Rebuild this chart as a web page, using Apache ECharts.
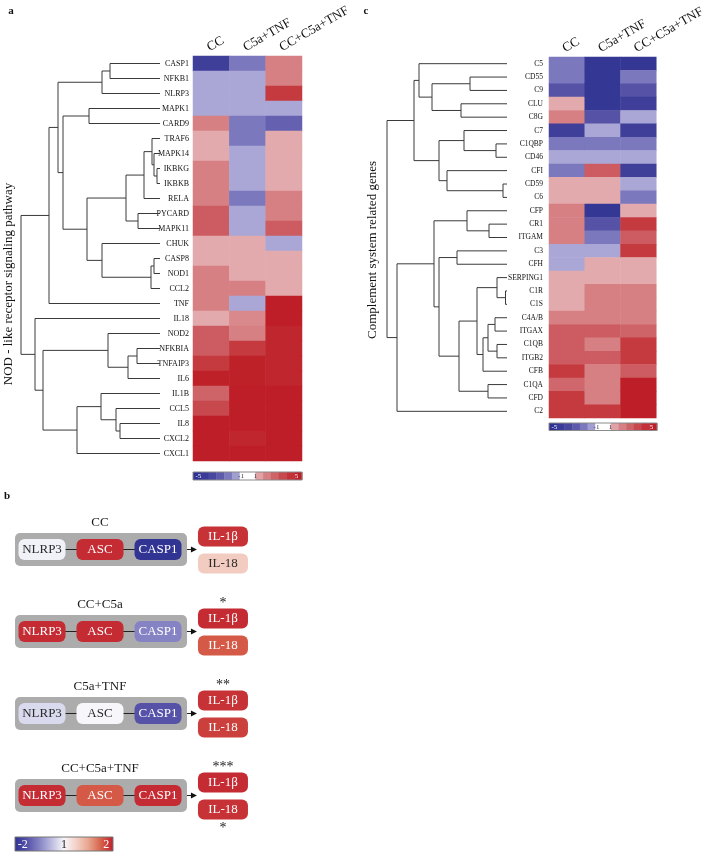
<!DOCTYPE html>
<html><head><meta charset="utf-8">
<script src="https://cdn.jsdelivr.net/npm/echarts@6/dist/echarts.min.js"></script>
<style>html,body{margin:0;padding:0;background:#fff}#chart{width:708px;height:854px}</style>
</head><body><div id="chart"></div>
<script>
// ---------------- DATA ----------------
const conditions = ['CC', 'C5a+TNF', 'CC+C5a+TNF'];

// Panel a: NOD-like receptor signaling pathway (log fold-change levels)
const genesA = ['CASP1','NFKB1','NLRP3','MAPK1','CARD9','TRAF6','MAPK14','IKBKG','IKBKB','RELA','PYCARD','MAPK11','CHUK','CASP8','NOD1','CCL2','TNF','IL18','NOD2','NFKBIA','TNFAIP3','IL6','IL1B','CCL5','IL8','CXCL2','CXCL1'];
const a_CC      = [-4,-1,-1,-1, 2, 1, 1, 2, 2, 2, 3, 3, 1, 1, 2, 2, 2, 1, 3, 3, 4, 4.9, 2.8, 3.6, 5, 5, 5];
const a_C5aTNF  = [-2,-1,-1,-1,-2,-2,-1,-1,-1,-2,-1,-1, 1, 1, 1, 2,-1, 1.8, 2, 4, 4.9, 4.9, 5, 5, 5, 4.7, 5];
const a_CCC5aTNF= [ 2, 2, 4,-1,-2.6, 1, 1, 1, 1, 2, 2, 3,-1, 1, 1, 1, 5, 5, 4.7, 4.7, 4.7, 4.7, 5, 5, 5, 5, 5];

// Panel c: complement system related genes
const genesC = ['C5','CD55','C9','CLU','C8G','C7','C1QBP','CD46','CFI','CD59','C6','CFP','CR1','ITGAM','C3','CFH','SERPING1','C1R','C1S','C4A/B','ITGAX','C1QB','ITGB2','CFB','C1QA','CFD','C2'];
const c_CC      = [-2,-2,-3, 1, 2,-4,-2,-1,-2, 1, 1, 2, 2, 2,-1,-1, 1, 1, 1, 2, 3, 3, 3, 4, 2.7, 4, 4];
const c_C5aTNF  = [-4.6,-4.6,-4.6,-4.6,-3,-1,-2,-1, 3, 1, 1,-4.6,-3,-2,-1, 1, 1, 2, 2, 2, 3, 2, 3, 2, 2, 2, 4];
const c_CCC5aTNF= [-4.6,-2,-3,-4,-1,-4,-2,-1,-4,-1,-2, 1, 4, 3, 4, 1, 1, 2, 2, 2, 2.8, 4, 4, 3, 5, 5, 5];

// Dendrograms: [child, child, merge height]; strings = genes, numbers = earlier merges
const treeA = [
  ['CASP1','NFKB1',0.50], [0,'NLRP3',0.58], ['MAPK1','CARD9',0.71],
  ['IKBKG','IKBKB',0.03], ['MAPK14',3,0.06], ['TRAF6',4,0.08], [5,'RELA',0.16],
  ['PYCARD','MAPK11',0.22], [6,7,0.34], ['CASP8','NOD1',0.06], [9,'CCL2',0.09],
  ['CHUK',10,0.58], [8,11,0.73], [2,12,0.97], [1,13,1.02], [14,'TNF',1.11],
  ['NFKBIA','TNFAIP3',0.23], [16,'IL6',0.32], ['NOD2',17,0.52],
  ['IL8','CXCL2',0.40], ['CCL5',19,0.44], ['IL1B',20,0.59], [21,'CXCL1',0.83],
  [18,22,1.17], ['IL18',23,1.25], [15,24,1.39]
];
const treeC = [
  ['CD55','C9',0.37], ['CLU','C8G',0.46], [0,1,0.75], ['C5',2,0.88],
  ['C1QBP','CD46',0.11], ['C7',4,0.43], ['CD59','C6',0.04], ['CFI',6,0.60],
  [5,7,0.68], [3,8,0.93], ['CR1','ITGAM',0.18], ['CFP',10,0.40], ['C3','CFH',0.50],
  ['C1R','C1S',0.015], ['SERPING1',13,0.10], ['C4A/B','ITGAX',0.12], ['C1QB','ITGB2',0.10],
  [15,16,0.19], [17,'CFB',0.24], [14,18,0.30], ['C1QA','CFD',0.19], [19,20,0.48],
  [12,21,0.68], [11,22,0.73], [23,'C2',1.10], [9,24,1.20]
];
const heatTicks = ['-5','-1','1','5'];

// Panel b: inflammasome schematic
const bGroups   = ['CC','CC+C5a','C5a+TNF','CC+C5a+TNF'];
const bChain    = ['NLRP3','ASC','CASP1'];
const bNLRP3    = [-0.05, 1.9, -0.25, 1.9];
const bASC      = [ 1.9, 1.9, 0.0, 1.55];
const bCASP1    = [-1.95, -1.0, -1.5, 1.9];
const bOutputs  = ['IL-1β','IL-18'];
const bIL1B     = [1.85, 1.9, 1.85, 1.9];
const bIL18     = [0.55, 1.55, 1.75, 1.85];
const starsAbove= ['', '*', '**', '***'];
const starsBelow= ['', '', '', '*'];
const bTicks    = ['-2','1','2'];

// ---------------- STYLE ----------------
const SERIF = '"Liberation Serif", "Times New Roman", serif';
const heatColors = ['#2e3192','#3f3f9a','#5652a6','#7b78be','#aaa7d6','#ffffff','#e3aaad','#d68084','#cc5c61','#c43a3f','#be1e27'];
const bColors = ['#2e3192','#5552a8','#8583c4','#bdbce0','#f7f7fb','#f3d0c6','#e8a48c','#d6604a','#bf1e2d'];

function heatData(cols) {
  const out = [];
  cols.forEach((arr, c) => arr.forEach((v, r) => out.push([c, r, v])));
  return out;
}
function dendroData(tree, genes) {
  const pos = [], ht = [];
  const get = ch => typeof ch === 'string' ? [genes.indexOf(ch), 0] : [pos[ch], ht[ch]];
  return tree.map((m, i) => {
    const [ya, ha] = get(m[0]), [yb, hb] = get(m[1]);
    pos[i] = (ya + yb) / 2; ht[i] = m[2];
    return [m[2], ya, yb, ha, hb];
  });
}
function renderDendro(params, api) {
  const h = api.value(0), ya = api.value(1), yb = api.value(2), ha = api.value(3), hb = api.value(4);
  return {
    type: 'polyline',
    shape: { points: [api.coord([ha, ya]), api.coord([h, ya]), api.coord([h, yb]), api.coord([hb, yb])] },
    style: { stroke: '#3a3a3a', lineWidth: 1, fill: 'none' }
  };
}

// panel b items
const bItems = [];
const bLabels = [];
[bNLRP3, bASC, bCASP1].forEach((arr, col) => arr.forEach((v, g) => { bItems.push([col, g, v, 0]); bLabels.push(bChain[col]); }));
bIL1B.forEach((v, g) => { bItems.push([3.12, g, v, 1]); bLabels.push(bOutputs[0]); });
bIL18.forEach((v, g) => { bItems.push([3.12, g, v, 2]); bLabels.push(bOutputs[1]); });

function renderFrame(params, api) {
  const g = api.value(1);
  const p0 = api.coord([0, g]), p1 = api.coord([1, g]), p2 = api.coord([2, g]), po = api.coord([3.12, g]);
  const cy = p0[1];
  const L = p0[0] - 27, R = p2[0] + 29;
  const tip = po[0] - 26;
  const txt = (t, x, y, size) => ({ type: 'text', style: { text: t, x: x, y: y, fill: '#1a1a1a', font: size + 'px ' + SERIF, align: 'center', verticalAlign: 'middle', textAlign: 'center', textVerticalAlign: 'middle' } });
  const line = (x1, x2) => ({ type: 'line', shape: { x1: x1, y1: cy, x2: x2, y2: cy }, style: { stroke: '#222', lineWidth: 1 } });
  return {
    type: 'group',
    children: [
      { type: 'rect', shape: { x: L, y: cy - 16.5, width: R - L, height: 33, r: 5 }, style: { fill: '#acacac' } },
      txt(bGroups[g], p1[0], cy - 27, 13),
      line(p0[0] + 23, p1[0] - 23),
      line(p1[0] + 23, p2[0] - 23),
      line(R, tip - 5),
      { type: 'polygon', shape: { points: [[tip - 6, cy - 3], [tip, cy], [tip - 6, cy + 3]] }, style: { fill: '#111' } },
      txt(starsAbove[g], po[0], cy - 28, 14),
      txt(starsBelow[g], po[0], cy + 33, 14)
    ]
  };
}
function renderBox(params, api) {
  const col = api.value(0), g = api.value(1), v = api.value(2), kind = api.value(3);
  const p = api.coord([col, g]);
  let w = 47, h = 21, cx = p[0], cy = p[1];
  if (kind === 1) { w = 50; h = 20; cy -= 13; }
  if (kind === 2) { w = 50; h = 20; cy += 14; }
  const dark = Math.abs(v) < 0.8;
  return {
    type: 'group',
    children: [
      { type: 'rect', shape: { x: cx - w / 2, y: cy - h / 2, width: w, height: h, r: 6 }, style: { fill: api.visual('color') } },
      { type: 'text', style: { text: bLabels[params.dataIndex], x: cx, y: cy + 0.5, fill: dark ? '#2a2a2a' : '#ffffff', font: '13px ' + SERIF, align: 'center', verticalAlign: 'middle', textAlign: 'center', textVerticalAlign: 'middle' } }
    ]
  };
}

// colour bars (legends)
function lerpColor(t, colors) {
  if (echarts.color && echarts.color.lerp) return echarts.color.lerp(t, colors);
  return colors[Math.round(t * (colors.length - 1))];
}
function heatBar(left, top, width, height) {
  const blockVals = [-5, -4.3, -3.6, -2.8, -2, -1.2, 0, 0, 1.2, 2, 2.8, 3.6, 4.3, 5];
  const bw = width / blockVals.length;
  const els = blockVals.map((v, i) => ({ type: 'rect', shape: { x: left + i * bw, y: top, width: bw + 0.4, height: height }, style: { fill: lerpColor((v + 5) / 10, heatColors) } }));
  els.push({ type: 'rect', shape: { x: left, y: top, width: width, height: height }, style: { fill: 'none', stroke: '#8a8a8a', lineWidth: 1 } });
  const fr = [0.05, 0.44, 0.57, 0.95], col = ['#fff', '#333', '#333', '#fff'];
  heatTicks.forEach((t, i) => els.push({ type: 'text', x: left + fr[i] * width, y: top + height / 2, style: { text: t, x: 0, y: 0, fill: col[i], font: '7px ' + SERIF, align: 'center', verticalAlign: 'middle', textAlign: 'center', textVerticalAlign: 'middle' } }));
  return els;
}
function bBar(left, top, width, height) {
  const stops = bColors.map((c, i) => ({ offset: i / (bColors.length - 1), color: c }));
  const els = [{ type: 'rect', shape: { x: left, y: top, width: width, height: height }, style: { fill: new echarts.graphic.LinearGradient(0, 0, 1, 0, stops), stroke: '#777', lineWidth: 1 } }];
  const fr = [0.08, 0.5, 0.93], col = ['#fff', '#222', '#fff'];
  bTicks.forEach((t, i) => els.push({ type: 'text', x: left + fr[i] * width, y: top + height / 2 + 0.5, style: { text: t, x: 0, y: 0, fill: col[i], font: '12px ' + SERIF, align: 'center', verticalAlign: 'middle', textAlign: 'center', textVerticalAlign: 'middle' } }));
  return els;
}
function label(t, x, y, size, weight, rot) {
  return { type: 'text', x: x, y: y, rotation: rot || 0, style: { text: t, x: 0, y: 0, fill: '#111', font: (weight || 'normal') + ' ' + size + 'px ' + SERIF, align: 'center', verticalAlign: 'middle', textAlign: 'center', textVerticalAlign: 'middle' } };
}

const catX = (gi) => ({
  type: 'category', gridIndex: gi, data: conditions, position: 'top',
  axisLine: { show: false }, axisTick: { show: false }, splitLine: { show: false },
  axisLabel: { interval: 0, rotate: -30, margin: 2, align: 'left', verticalAlign: 'bottom', fontSize: 13, fontFamily: SERIF, color: '#111' }
});
const catY = (gi, genes, size, margin) => ({
  type: 'category', gridIndex: gi, data: genes, inverse: true,
  axisLine: { show: false }, axisTick: { show: false }, splitLine: { show: false },
  axisLabel: { interval: 0, fontSize: size, margin: margin, fontFamily: SERIF, color: '#111' }
});
const hidVal = (gi, min, max, inv) => ({ type: 'value', gridIndex: gi, min: min, max: max, inverse: !!inv, show: false, splitLine: { show: false } });

const chart = echarts.init(document.getElementById('chart'), null, { renderer: 'canvas' });
chart.setOption({
  backgroundColor: '#ffffff',
  animation: false,
  grid: [
    { left: 193, top: 56, width: 109, height: 405 },
    { left: 21, top: 56, width: 139, height: 405 },
    { left: 549, top: 57, width: 108, height: 361 },
    { left: 387, top: 57, width: 120, height: 361 },
    { left: 42, top: 549.5, width: 116, height: 246 }
  ],
  xAxis: [
    catX(0),
    hidVal(1, 0, 1.39, true),
    catX(2),
    hidVal(3, 0, 1.20, true),
    hidVal(4, 0, 2)
  ],
  yAxis: [
    catY(0, genesA, 8, 4),
    hidVal(1, -0.5, 26.5, true),
    catY(2, genesC, 7.5, 6),
    hidVal(3, -0.5, 26.5, true),
    hidVal(4, 0, 3, true)
  ],
  visualMap: [
    { type: 'continuous', show: false, min: -5, max: 5, dimension: 2, seriesIndex: [0, 1], inRange: { color: heatColors } },
    { type: 'continuous', show: false, min: -2, max: 2, dimension: 2, seriesIndex: [5], inRange: { color: bColors } }
  ],
  series: [
    { type: 'heatmap', xAxisIndex: 0, yAxisIndex: 0, data: heatData([a_CC, a_C5aTNF, a_CCC5aTNF]), itemStyle: { borderWidth: 0 }, emphasis: { disabled: true } },
    { type: 'heatmap', xAxisIndex: 2, yAxisIndex: 2, data: heatData([c_CC, c_C5aTNF, c_CCC5aTNF]), itemStyle: { borderWidth: 0 }, emphasis: { disabled: true } },
    { type: 'custom', xAxisIndex: 1, yAxisIndex: 1, data: dendroData(treeA, genesA), renderItem: renderDendro, encode: { x: [0, 3, 4], y: [1, 2] }, silent: true },
    { type: 'custom', xAxisIndex: 3, yAxisIndex: 3, data: dendroData(treeC, genesC), renderItem: renderDendro, encode: { x: [0, 3, 4], y: [1, 2] }, silent: true },
    { type: 'custom', xAxisIndex: 4, yAxisIndex: 4, data: bGroups.map((n, g) => [0, g]), renderItem: renderFrame, encode: { x: 0, y: 1 }, silent: true, z: 1 },
    { type: 'custom', xAxisIndex: 4, yAxisIndex: 4, data: bItems, renderItem: renderBox, encode: { x: 0, y: 1 }, silent: true, z: 2 }
  ],
  graphic: [
    label('a', 11, 11, 11, 'bold'),
    label('c', 366, 11, 11, 'bold'),
    label('b', 7, 496, 11, 'bold'),
    label('NOD - like receptor signaling pathway', 9, 284, 13, 'normal', Math.PI / 2),
    label('Complement system related genes', 373, 250, 13, 'normal', Math.PI / 2)
  ].concat(heatBar(193, 472, 109, 8), heatBar(549, 423, 108, 7.5), bBar(15, 837, 98, 14))
});
</script></body></html>
